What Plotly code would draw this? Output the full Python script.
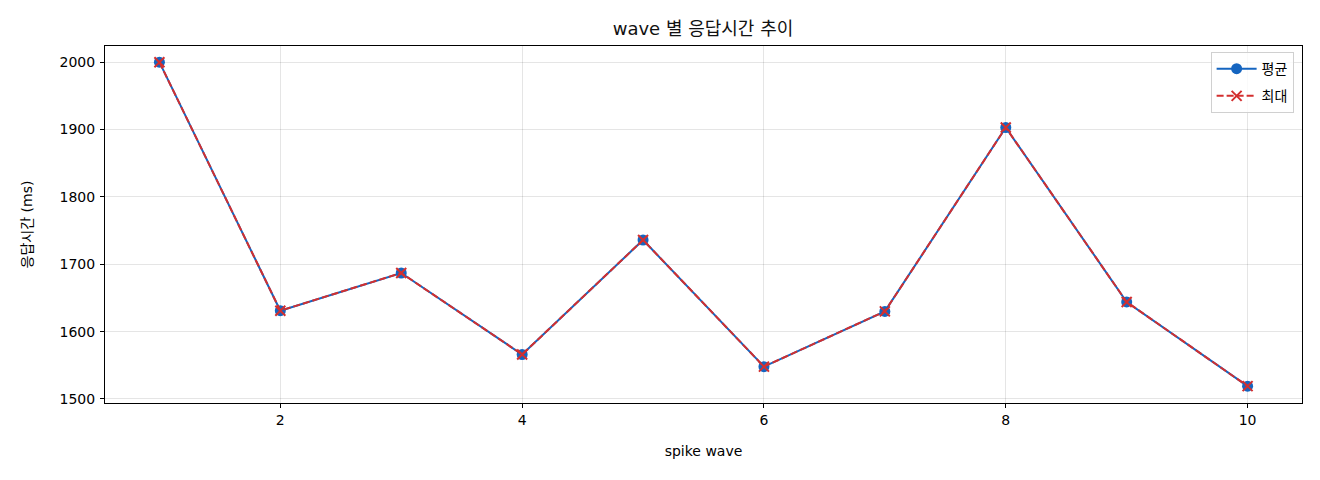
import plotly.graph_objects as go

waves = [1, 2, 3, 4, 5, 6, 7, 8, 9, 10]
avg_ms = [2000, 1631, 1687, 1566, 1736, 1548, 1630, 1903, 1644, 1519]
max_ms = [2000, 1631, 1687, 1566, 1736, 1548, 1630, 1903, 1644, 1519]

FONT = "DejaVu Sans, Noto Sans CJK KR"

fig = go.Figure()
fig.add_trace(go.Scatter(
    x=waves, y=avg_ms, name="평균", mode="lines+markers", legendgroup="a",
    line=dict(color="#1565C0", width=2),
    marker=dict(symbol="circle", size=11, color="#1565C0"),
))
fig.add_trace(go.Scatter(
    x=waves, y=max_ms, name="최대", mode="lines+markers", legendgroup="b",
    line=dict(color="#D32F2F", width=2, dash="7px,3px"),
    marker=dict(symbol="x-thin", size=10, color="#D32F2F",
                line=dict(color="#D32F2F", width=2)),
))

axis_common = dict(
    showline=True, linecolor="black", linewidth=1, mirror=True,
    ticks="outside", ticklen=4, tickcolor="black",
    showgrid=True, gridcolor="rgba(0,0,0,0.1)", gridwidth=1,
    zeroline=False, tickfont=dict(size=14, color="black", family=FONT),
)

fig.update_layout(
    width=1320, height=480,
    margin=dict(l=97, r=26, t=38, b=85),
    paper_bgcolor="white", plot_bgcolor="white",
    font=dict(family=FONT, color="black"),
    title=dict(text="wave 별 응답시간 추이", x=695 / 1320, xanchor="center",
               xref="container", yref="container",
               y=1 - 21 / 480, yanchor="middle",
               font=dict(size=18, family=FONT, color="#111")),
    xaxis=dict(axis_common, range=[0.55, 10.45], tickvals=[2, 4, 6, 8, 10],
               title=dict(text="spike wave", font=dict(size=14), standoff=19)),
    yaxis=dict(axis_common, range=[1494, 2024],
               tickvals=[1500, 1600, 1700, 1800, 1900, 2000],
               ticklabelstandoff=2,
               title=dict(text="응답시간 (ms)", font=dict(size=14), standoff=23)),
    legend=dict(x=0.993, y=0.983, xanchor="right", yanchor="top",
                bgcolor="rgba(255,255,255,0.8)", bordercolor="#d0d0d0", borderwidth=1,
                tracegroupgap=6, itemwidth=40,
                font=dict(size=14, family=FONT)),
    showlegend=True,
)

fig.write_html("out.html")
